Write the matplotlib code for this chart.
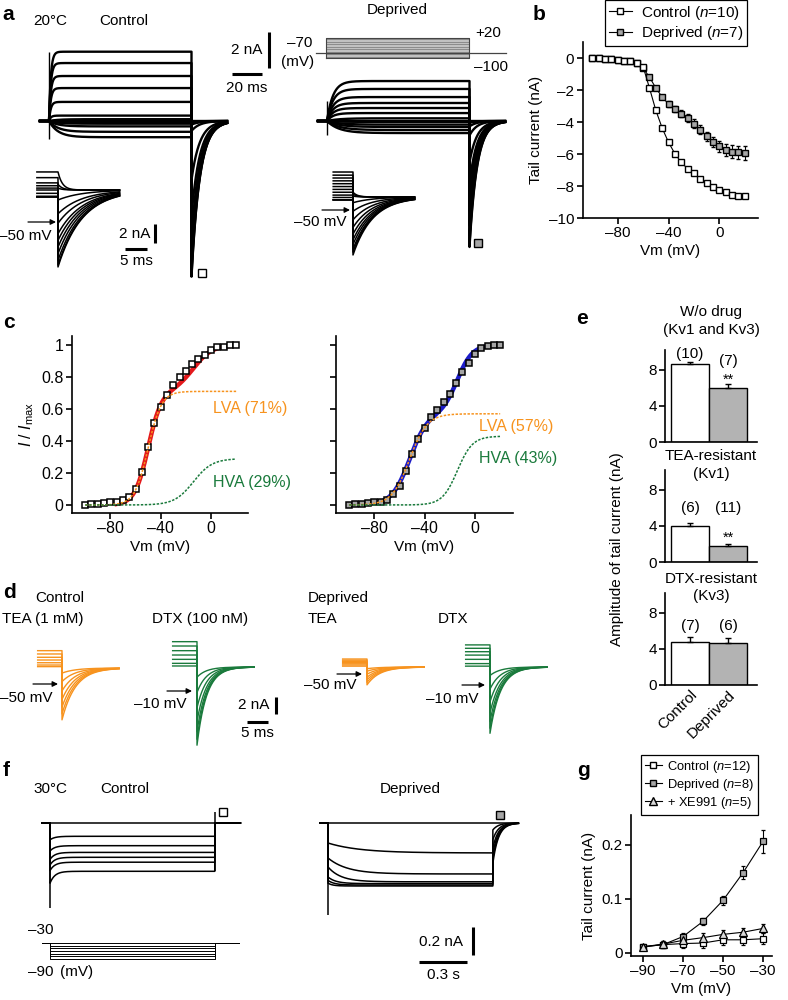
import numpy as np
import matplotlib
matplotlib.use('Agg')
import matplotlib.pyplot as plt
from matplotlib.ticker import FuncFormatter
from matplotlib.lines import Line2D

plt.rcParams['font.family'] = ['Liberation Sans', 'DejaVu Sans']
plt.rcParams['font.size'] = 11
plt.rcParams['mathtext.fontset'] = 'custom'
plt.rcParams['mathtext.it'] = 'Liberation Sans:italic'
plt.rcParams['mathtext.rm'] = 'Liberation Sans'
plt.rcParams['axes.linewidth'] = 1.2
for a in ('xtick', 'ytick'):
    plt.rcParams[a + '.major.width'] = 1.2
    plt.rcParams[a + '.major.size'] = 4
    plt.rcParams[a + '.major.pad'] = 2

# ======================= DATA =======================
# --- panel a: example traces (20 C) ---
a_step_dur = 95.0            # ms
a_ctrl_level = [3.85, 3.22, 2.5, 1.83, 1.06, 0.3, 0.1, 0.0, -0.05, -0.15, -0.3, -0.6, -0.9]
a_ctrl_tail = [-8.65, -8.54, -8.27, -7.8, -7.2, -6.52, -5.27, -3.27, -0.55, -0.2, -0.12, -0.05, 0.0]
a_dep_level = [2.22, 1.78, 1.33, 1.0, 0.72, 0.44, 0.15, 0.0, -0.05, -0.2, -0.33, -0.5, -0.67]
a_dep_tail = [-7.0, -6.8, -6.4, -5.8, -5.0, -4.3, -3.5, -2.3, -0.8, -0.3, -0.1, -0.05, 0.0]
a_protocol_mv = [-100, -90, -80, -70, -60, -50, -40, -30, -20, -10, 0, 10, 20]
a_hold_mv = -70
a_ins_ctrl_pre = [1.9, 1.3, 0.75, 0.45, 0.2, 0.0, -0.35, -0.7, -0.7, -0.7, -0.7, -0.7, -0.7]
a_ins_ctrl_tail = [1.9, 0.6, 0.2, -1.05, -2.5, -3.5, -4.6, -5.3, -6.0, -6.7, -7.4, -7.9, -8.1]
a_ins_dep_pre = [2.63, 2.3, 2.0, 1.7, 1.4, 1.1, 0.8, 0.5, 0.2, -0.05, -0.3, -0.3, -0.3]
a_ins_dep_tail = [0.5, 0.3, 0.1, -0.6, -1.5, -2.4, -3.2, -3.9, -4.5, -5.0, -5.5, -5.8, -6.1]

# --- panel b ---
b_vm = [-100, -95, -90, -85, -80, -75, -70, -65, -60, -55, -50, -45, -40,
        -35, -30, -25, -20, -15, -10, -5, 0, 5, 10, 15, 20]
b_ctrl = [0.0, -0.03, -0.05, -0.08, -0.12, -0.16, -0.2, -0.3, -0.55, -1.88, -3.27, -4.38, -5.27,
          -5.98, -6.52, -6.92, -7.2, -7.54, -7.8, -8.08, -8.27, -8.4, -8.54, -8.6, -8.65]
b_ctrl_err = [0.02, 0.02, 0.02, 0.02, 0.03, 0.03, 0.03, 0.04, 0.05, 0.1, 0.12, 0.12, 0.12,
              0.12, 0.12, 0.12, 0.12, 0.12, 0.12, 0.12, 0.12, 0.12, 0.12, 0.12, 0.12]
b_dep = [0.0, -0.03, -0.05, -0.08, -0.12, -0.16, -0.2, -0.3, -0.65, -1.19, -1.88, -2.44, -2.88,
         -3.19, -3.48, -3.75, -4.1, -4.48, -4.9, -5.27, -5.52, -5.73, -5.85, -5.9, -5.94]
b_dep_err = [0.02, 0.02, 0.02, 0.03, 0.03, 0.04, 0.05, 0.06, 0.08, 0.1, 0.12, 0.15, 0.18,
             0.2, 0.22, 0.25, 0.27, 0.3, 0.3, 0.32, 0.35, 0.38, 0.4, 0.42, 0.42]
b_labels = ['Control ($n$=10)', 'Deprived ($n$=7)']

# --- panel c (normalised) ---
c_vm = b_vm
c_ctrl = [0.0, 0.004, 0.008, 0.0125, 0.017, 0.021, 0.031, 0.052, 0.098, 0.208, 0.365, 0.51, 0.61,
          0.69, 0.75, 0.802, 0.84, 0.88, 0.91, 0.94, 0.97, 0.985, 0.99, 1.0, 1.0]
c_dep = [0.0, 0.004, 0.008, 0.0125, 0.017, 0.021, 0.031, 0.066, 0.12, 0.214, 0.319, 0.413, 0.483,
         0.548, 0.594, 0.646, 0.692, 0.76, 0.83, 0.89, 0.944, 0.98, 0.994, 1.0, 1.0]
# Boltzmann components [amplitude, V1/2 (mV), slope (mV)]
c_ctrl_lva = [0.71, -50.0, 5.3]
c_ctrl_hva = [0.29, -14.0, 7.5]
c_dep_lva = [0.57, -52.0, 7.0]
c_dep_hva = [0.43, -14.0, 6.0]
c_ctrl_fit_start = -75
c_dep_fit_start = -72
c_ctrl_text = ['LVA (71%)', 'HVA (29%)']
c_dep_text = ['LVA (57%)', 'HVA (43%)']

# --- panel d: tail currents with drugs ---
d_tea_ctrl_pre = [2.04, 1.65, 1.26, 0.94, 0.62, 0.35, 0.16]
d_tea_ctrl_tail = [-6.1, -5.4, -4.6, -3.7, -2.7, -1.6, -0.6]
d_dtx_ctrl_pre = [2.98, 2.47, 1.92, 1.41, 0.9, 0.43, 0.12]
d_dtx_ctrl_tail = [-9.2, -8.5, -7.6, -6.4, -4.8, -3.0, -1.2]
d_tea_dep_pre = [0.94, 0.8, 0.66, 0.52, 0.38, 0.24, 0.1]
d_tea_dep_tail = [-2.1, -1.8, -1.5, -1.2, -0.85, -0.5, -0.2]
d_dtx_dep_pre = [2.6, 2.2, 1.8, 1.4, 0.9, 0.4, 0.1]
d_dtx_dep_tail = [-7.8, -7.2, -6.4, -5.4, -4.1, -2.6, -1.0]
d_tau = {'tea_ctrl': 3.2, 'dtx_ctrl': 2.3, 'tea_dep': 3.0, 'dtx_dep': 2.5}

# --- panel e: bar chart ---
e_groups = ['Control', 'Deprived']
e_titles = [['W/o drug', '(Kv1 and Kv3)'], ['TEA-resistant', '(Kv1)'], ['DTX-resistant', '(Kv3)']]
e_mean = [[8.7, 5.95], [3.95, 1.8], [4.8, 4.65]]
e_err = [[0.2, 0.45], [0.35, 0.25], [0.55, 0.55]]
e_n = [['(10)', '(7)'], ['(6)', '(11)'], ['(7)', '(6)']]
e_sig = [['', '**'], ['', '**'], ['', '']]

# --- panel f: 30 C traces ---
f_step_dur = 1.03          # s
f_steps_mv = [-30, -40, -50, -60, -70, -80, -90]
f_hold_mv = -30
f_ctrl_inst = [0.0, -0.12, -0.2, -0.26, -0.3, -0.34, -0.43]
f_ctrl_steady = [0.0, -0.095, -0.162, -0.21, -0.245, -0.28, -0.345]
f_ctrl_spike = [-0.61, 0.08]
f_dep_inst = [0.0, -0.143, -0.25, -0.314, -0.386, -0.41, -0.43]
f_dep_steady = [0.0, -0.214, -0.364, -0.42, -0.433, -0.443, -0.45]
f_dep_tau = [0.2, 0.2, 0.12, 0.08, 0.05, 0.04, 0.03]
f_dep_tail = [0.0, -0.05, -0.12, -0.18, -0.22, -0.26, -0.29]
f_dep_spike = [-0.66, 0.06]

# --- panel g ---
g_vm = [-90, -80, -70, -60, -50, -40, -30]
g_ctrl = [0.011, 0.015, 0.017, 0.018, 0.024, 0.024, 0.026]
g_ctrl_err = [0.004, 0.006, 0.008, 0.009, 0.01, 0.01, 0.01]
g_dep = [0.011, 0.015, 0.03, 0.058, 0.097, 0.148, 0.206]
g_dep_err = [0.004, 0.005, 0.006, 0.007, 0.008, 0.012, 0.022]
g_xe = [0.011, 0.016, 0.023, 0.028, 0.034, 0.038, 0.045]
g_xe_err = [0.004, 0.006, 0.007, 0.008, 0.008, 0.008, 0.008]
g_labels = ['Control ($n$=12)', 'Deprived ($n$=8)', '+ XE991 ($n$=5)']

# ======================= FIGURE =======================
W, H = 788, 1000
fig = plt.figure(figsize=(W / 100, H / 100), dpi=100)

ORANGE = '#f7931e'
GREEN = '#1a7a3c'
GRAY = '#a6a6a6'


def px_axes(l, t, r, b):
    return fig.add_axes([l / W, 1 - b / H, (r - l) / W, (b - t) / H])


def trace_axes(l, t, r, b, x0, y0, sx, sy):
    ax = px_axes(l, t, r, b)
    ax.set_xlim((l - x0) / sx, (r - x0) / sx)
    ax.set_ylim((y0 - b) / sy, (y0 - t) / sy)
    ax.axis('off')
    return ax


def relax(t, y0, yinf, tau):
    return yinf + (y0 - yinf) * np.exp(-t / tau)


def draw_trace(ax, t0, t_on, t_off, t1, level, tail, tau_on=1.0, tau_off=1.0,
               start=0.0, color='k', lw=1.0):
    ts, ys = [], []
    if t_on is not None:
        ts.append(np.array([t0, t_on]))
        ys.append(np.zeros(2))
        tt = np.linspace(t_on, t_off, 400)
        ts.append(tt)
        ys.append(relax(tt - t_on, start, level, tau_on))
    else:
        ts.append(np.array([t0, t_off]))
        ys.append(np.array([level, level]))
    tt = np.linspace(t_off, t1, 400)
    ts.append(tt)
    ys.append(relax(tt - t_off, tail, 0.0, tau_off))
    ax.plot(np.concatenate(ts), np.concatenate(ys), color=color, lw=lw)


def dash_fmt(v, p):
    return ('%g' % v).replace('-', '\u2013')


def style_axes(ax):
    for s in ('top', 'right'):
        ax.spines[s].set_visible(False)
    ax.tick_params(direction='out')
    ax.xaxis.set_major_formatter(FuncFormatter(dash_fmt))
    ax.yaxis.set_major_formatter(FuncFormatter(dash_fmt))


def boltz(v, p):
    v = np.asarray(v, float)
    return p[0] / (1 + np.exp((p[1] - v) / p[2]))


def handle(marker, face, ms=4.8):
    return Line2D([], [], color='k', lw=0.8, marker=marker, ms=ms, mfc=face, mec='k', mew=1)


ov = fig.add_axes([0, 0, 1, 1], zorder=10)
ov.set_xlim(0, W)
ov.set_ylim(H, 0)
ov.axis('off')


def T(x, y, s, ha='left', va='center', **kw):
    ov.text(x, y, s, ha=ha, va=va, **kw)


def arrow(x0, x1, y):
    ov.annotate('', xy=(x1, y), xytext=(x0, y),
                arrowprops=dict(arrowstyle='-|>', lw=0.9, color='k', mutation_scale=8,
                                shrinkA=0, shrinkB=0))


BOLD = dict(fontsize=15, fontweight='bold')

# ---------------- panel a ----------------
T(2, 15, 'a', **BOLD)
T(33, 21, '20\u00b0C')
T(124, 21, 'Control', ha='center')
T(397, 10, 'Deprived', ha='center')

ax = trace_axes(30, 25, 285, 285, x0=49, y0=121, sx=1.5, sy=18)
for L, P in zip(a_ctrl_level, a_ctrl_tail):
    draw_trace(ax, -6, 0, a_step_dur, 118.7, L, P, tau_on=1.2 if L > 0.2 else 6.0,
               tau_off=5.5, lw=1.7)
ax.vlines(0, min(a_ctrl_level) - 0.1, max(a_ctrl_level), color='k', lw=1)
ax.plot(a_step_dur + 7, min(a_ctrl_tail) * 0.975, 's', mfc='white', mec='k', ms=5.5, mew=1)
# scale bars 2 nA / 20 ms
ax.plot([146.7, 146.7], [2.94, 4.94], color='k', lw=2.2, solid_capstyle='butt')
ax.plot([122, 142], [2.61, 2.61], color='k', lw=2.2, solid_capstyle='butt')
T(262, 50, '2 nA', ha='right')
T(247, 88, '20 ms', ha='center')

ax = trace_axes(310, 60, 512, 265, x0=327, y0=121, sx=1.5, sy=18)
for L, P in zip(a_dep_level, a_dep_tail):
    draw_trace(ax, -6, 0, a_step_dur, 118.7, L, P, tau_on=4.0 if L > 0.2 else 8.0,
               tau_off=5.0, lw=1.7)
ax.vlines(0, min(a_dep_level) - 0.1, max(a_dep_level) * 0.5, color='k', lw=1)
ax.plot(a_step_dur + 5.5, min(a_dep_tail) * 0.97, 's', mfc=GRAY, mec='k', ms=5.5, mew=1)

# protocol
ax = trace_axes(300, 25, 512, 65, x0=326, y0=41.3, sx=1.5, sy=0.1667)
ax.fill_between([0, a_step_dur], min(a_protocol_mv), max(a_protocol_mv), color='#8c8c8c', lw=0)
for v in a_protocol_mv:
    ax.plot([0, a_step_dur], [v, v], color='#d9d9d9', lw=0.5)
ax.plot([-6.7, 120], [a_hold_mv, a_hold_mv], color='#444444', lw=0.9)
ax.plot([0, 0, a_step_dur, a_step_dur, 0], [min(a_protocol_mv), max(a_protocol_mv),
        max(a_protocol_mv), min(a_protocol_mv), min(a_protocol_mv)], color='#444444', lw=0.8)
T(312, 43, '\u201370', ha='right')
T(314, 62, '(mV)', ha='right')
T(475, 33, '+20')
T(474, 67, '\u2013100')

# insets
ax = trace_axes(30, 160, 165, 275, x0=58, y0=190, sx=4.4, sy=9.5)
for s, p in zip(a_ins_ctrl_pre, a_ins_ctrl_tail):
    draw_trace(ax, -4.8, None, 0, 14, s, p, tau_off=1.0 if p > 0 else 5.5, lw=1.1)
ax.plot([22.0, 22.0], [-3.6, -5.6], color='k', lw=2.2, solid_capstyle='butt')
ax.plot([15.2, 20.2], [-6.2, -6.2], color='k', lw=2.2, solid_capstyle='butt')
T(150, 234, '2 nA', ha='right')
T(136, 261, '5 ms', ha='center')
arrow(28, 56, 222)
T(52, 236, '\u201350 mV', ha='right')

ax = trace_axes(325, 160, 425, 265, x0=353, y0=197, sx=4.4, sy=9.5)
for s, p in zip(a_ins_dep_pre, a_ins_dep_tail):
    draw_trace(ax, -4.5, None, 0, 14, s, p, tau_off=1.0 if p > 0 else 4.5, lw=1.1)
arrow(322, 350, 210)
T(347, 222, '\u201350 mV', ha='right')

# ---------------- panel b ----------------
T(533, 15, 'b', **BOLD)
ax = px_axes(582.7, 42, 758.3, 218)
style_axes(ax)
ax.errorbar(b_vm, b_dep, yerr=b_dep_err, color='k', lw=0.8, elinewidth=0.8, capsize=1.5,
            marker='s', ms=4.8, mfc=GRAY, mec='k', mew=1)
ax.errorbar(b_vm, b_ctrl, yerr=b_ctrl_err, color='k', lw=0.8, elinewidth=0.8, capsize=1.5,
            marker='s', ms=4.8, mfc='white', mec='k', mew=1)
ax.set_xlim(-107.6, 30.7)
ax.set_ylim(-10, 1.0)
ax.set_xticks([-80, -40, 0])
ax.set_yticks([0, -2, -4, -6, -8, -10])
ax.set_xlabel('Vm (mV)', labelpad=3)
ax.set_ylabel('Tail current (nA)', labelpad=4)
lg = fig.legend([handle('s', 'white'), handle('s', GRAY)], b_labels, loc='upper left',
                bbox_to_anchor=(605 / W, 1.0), bbox_transform=fig.transFigure, fancybox=False,
                edgecolor='k', framealpha=1, handlelength=1.5, handletextpad=0.6,
                borderpad=0.25, labelspacing=0.15, fontsize=11, borderaxespad=0)
lg.get_frame().set_linewidth(0.9)

# ---------------- panel c ----------------
T(3, 323, 'c', **BOLD)
vv = np.linspace(-100, 20, 300)
for (l, r, x0), data, lva, hva, fitc, face, vstart in [
        ((72, 248, 211), c_ctrl, c_ctrl_lva, c_ctrl_hva, '#e3191c', 'white', c_ctrl_fit_start),
        ((335.7, 513, 475), c_dep, c_dep_lva, c_dep_hva, '#1c1cc8', GRAY, c_dep_fit_start)]:
    ax = px_axes(l, 336, r, 513)
    style_axes(ax)
    vf = np.linspace(vstart, 20, 200)
    ax.plot(vf, boltz(vf, lva) + boltz(vf, hva), color=fitc, lw=3.2, zorder=1)
    ax.plot(c_vm, data, 's', ms=4.8, mfc=face, mec='k', mew=1.1, zorder=2)
    ax.plot(vv, boltz(vv, lva), color=ORANGE, lw=1.1, ls=(0, (1.6, 1.0)), zorder=3)
    ax.plot(vv, boltz(vv, hva), color=GREEN, lw=1.1, ls=(0, (1.6, 1.0)), zorder=3)
    ax.set_xlim((l - x0) / 1.258, (r - x0) / 1.258)
    ax.set_ylim(-0.05, 1.056)
    ax.set_xticks([-80, -40, 0])
    ax.set_yticks([0, 0.2, 0.4, 0.6, 0.8, 1.0])
    ax.tick_params(labelsize=11.5)
    ax.set_xlabel('Vm (mV)', labelpad=3, fontsize=11)
    if face != 'white':
        ax.set_yticklabels([])
    else:
        ax.set_ylabel('$I$ / $I_{\\mathrm{max}}$', fontsize=11.5, labelpad=4)
T(213, 409, c_ctrl_text[0], color=ORANGE, fontsize=11.5)
T(213, 482, c_ctrl_text[1], color=GREEN, fontsize=11.5)
T(479, 426, c_dep_text[0], color=ORANGE, fontsize=11.5)
T(479, 458, c_dep_text[1], color=GREEN, fontsize=11.5)

# ---------------- panel d ----------------
T(3, 592, 'd', **BOLD)
T(35, 598, 'Control')
T(2, 619, 'TEA (1 mM)')
T(152, 619, 'DTX (100 nM)')
T(308, 598, 'Deprived')
T(308, 619, 'TEA')
T(438, 619, 'DTX')
for box, x0, y0, pre, tail, tau, col in [
        ((30, 635, 130, 730), 62, 668, d_tea_ctrl_pre, d_tea_ctrl_tail, d_tau['tea_ctrl'], ORANGE),
        ((165, 630, 290, 755), 197, 667, d_dtx_ctrl_pre, d_dtx_ctrl_tail, d_tau['dtx_ctrl'], GREEN),
        ((335, 650, 430, 695), 367, 667, d_tea_dep_pre, d_tea_dep_tail, d_tau['tea_dep'], ORANGE),
        ((455, 635, 560, 745), 490, 667, d_dtx_dep_pre, d_dtx_dep_tail, d_tau['dtx_dep'], GREEN)]:
    ax = trace_axes(*box, x0=x0, y0=y0, sx=4.2, sy=8.5)
    for s, p in zip(pre, tail):
        draw_trace(ax, -5.8, None, 0, 13.6, s, p, tau_off=tau, color=col, lw=1.0)
    if x0 == 197:
        ax.plot([18.8, 18.8], [-3.53, -5.53], color='k', lw=2.2, solid_capstyle='butt')
        ax.plot([11.9, 16.9], [-6.47, -6.47], color='k', lw=2.2, solid_capstyle='butt')
T(269, 705, '2 nA', ha='right')
T(257, 733, '5 ms', ha='center')
arrow(33, 58, 684)
T(53, 698, '\u201350 mV', ha='right')
arrow(167, 192, 691)
T(187, 704, '\u201310 mV', ha='right')
arrow(337, 362, 674)
T(357, 685, '\u201350 mV', ha='right')
arrow(462, 485, 685)
T(479, 699, '\u201310 mV', ha='right')

# ---------------- panel e ----------------
T(576, 319, 'e', **BOLD)
e_boxes = [(665, 350, 757, 442), (665, 470, 757, 562), (665, 593, 757, 685)]
e_title_y = [(312, 330), (456, 474), (579, 596)]
e_label_y = [[9.8, 8.95], [6.0, 6.0], [6.5, 6.5]]
e_sig_y = [[0, 6.95], [0, 2.7], [0, 0]]
for k, bx in enumerate(e_boxes):
    ax = px_axes(*bx)
    style_axes(ax)
    xs = [0, 1]
    ax.bar(xs, e_mean[k], width=1.0, color=['white', '#b3b3b3'], edgecolor='k', lw=1.0,
           yerr=[[0, 0], e_err[k]], error_kw=dict(elinewidth=1.0, capsize=2.5, capthick=1.0))
    ax.set_xlim(-0.66, 1.76)
    ax.set_ylim(0, 10.2)
    ax.set_yticks([0, 4, 8])
    ax.tick_params(axis='x', length=0)
    for i in xs:
        ax.text(i, e_label_y[k][i], e_n[k][i], ha='center', va='center', fontsize=11)
        if e_sig[k][i]:
            ax.text(i, e_sig_y[k][i], e_sig[k][i], ha='center', va='center', fontsize=10.5)
    ax.set_xticks(xs)
    if k < 2:
        ax.set_xticklabels(['', ''])
    else:
        ax.set_xticklabels(e_groups, rotation=45, ha='right', va='top', rotation_mode='anchor')
    T(711, e_title_y[k][0], e_titles[k][0], ha='center')
    T(711, e_title_y[k][1], e_titles[k][1], ha='center')
T(617, 549, 'Amplitude of tail current (nA)', ha='center', rotation=90)

# ---------------- panel f ----------------
T(3, 770, 'f', **BOLD)
T(33, 789, '30\u00b0C')
T(100, 789, 'Control')
T(380, 789, 'Deprived')
ax = trace_axes(35, 800, 250, 925, x0=50, y0=823, sx=160, sy=140)
for i0, ss in zip(f_ctrl_inst, f_ctrl_steady):
    draw_trace(ax, -0.05, 0, f_step_dur, 1.19, ss, 0.0, tau_on=0.03, tau_off=0.02,
               start=i0, lw=1.1)
ax.vlines(0, f_ctrl_spike[0], 0, color='k', lw=1.1)
ax.vlines(f_step_dur, min(f_ctrl_steady), f_ctrl_spike[1], color='k', lw=1.1)
ax.plot(f_step_dur + 0.05, f_ctrl_spike[1], 's', mfc='white', mec='k', ms=5.5, mew=1)

ax = trace_axes(310, 800, 525, 985, x0=328, y0=823, sx=160, sy=140)
for i0, ss, tau, tl in zip(f_dep_inst, f_dep_steady, f_dep_tau, f_dep_tail):
    draw_trace(ax, -0.05, 0, f_step_dur, 1.19, ss, tl, tau_on=tau, tau_off=0.035,
               start=i0, lw=1.1)
ax.vlines(0, f_dep_spike[0], 0, color='k', lw=1.1)
ax.plot(f_step_dur + 0.045, f_dep_spike[1], 's', mfc=GRAY, mec='k', ms=5.5, mew=1)
ax.plot([0.906, 0.906], [-0.743, -0.943], color='k', lw=2.2, solid_capstyle='butt')
ax.plot([0.569, 0.869], [-0.993, -0.993], color='k', lw=2.2, solid_capstyle='butt')
T(463, 942, '0.2 nA', ha='right')
T(443, 975, '0.3 s', ha='center')

ax = trace_axes(35, 930, 250, 970, x0=50, y0=935, sx=160, sy=0.267)
for v in f_steps_mv:
    ax.plot([-0.05, 0, 0, f_step_dur, f_step_dur, 1.18],
            [f_hold_mv, f_hold_mv, v, v, f_hold_mv, f_hold_mv], color='k', lw=0.7)
T(28, 930, '\u201330')
T(28, 972, '\u201390')
T(60, 972, '(mV)')

# ---------------- panel g ----------------
T(577, 770, 'g', **BOLD)
ax = px_axes(631, 815, 772, 956)
style_axes(ax)
ax.errorbar(g_vm, g_ctrl, yerr=g_ctrl_err, color='k', lw=0.8, elinewidth=0.8, capsize=1.5,
            marker='s', ms=5, mfc='white', mec='k', mew=0.9)
ax.errorbar(g_vm, g_dep, yerr=g_dep_err, color='k', lw=0.8, elinewidth=0.8, capsize=1.5,
            marker='s', ms=5, mfc=GRAY, mec='k', mew=0.9)
ax.errorbar(g_vm, g_xe, yerr=g_xe_err, color='k', lw=0.8, elinewidth=0.8, capsize=1.5,
            marker='^', ms=5.5, mfc='#d9d9d9', mec='k', mew=0.9)
ax.set_xlim(-96, -25.5)
ax.set_ylim(-0.006, 0.255)
ax.set_xticks(g_vm[::2])
ax.set_yticks([0, 0.1, 0.2])
ax.set_xlabel('Vm (mV)', labelpad=3)
ax.set_ylabel('Tail current (nA)', labelpad=4)
lg = fig.legend([handle('s', 'white', 5), handle('s', GRAY, 5), handle('^', '#d9d9d9', 5.5)],
                g_labels, loc='upper left',
                bbox_to_anchor=(641 / W, 1 - 755 / H), bbox_transform=fig.transFigure,
                fancybox=False, edgecolor='k', framealpha=1, handlelength=1.3,
                handletextpad=0.4, borderpad=0.3, labelspacing=0.15, fontsize=9.3,
                borderaxespad=0)
lg.get_frame().set_linewidth(0.9)

fig.savefig('out.png', dpi=100)
